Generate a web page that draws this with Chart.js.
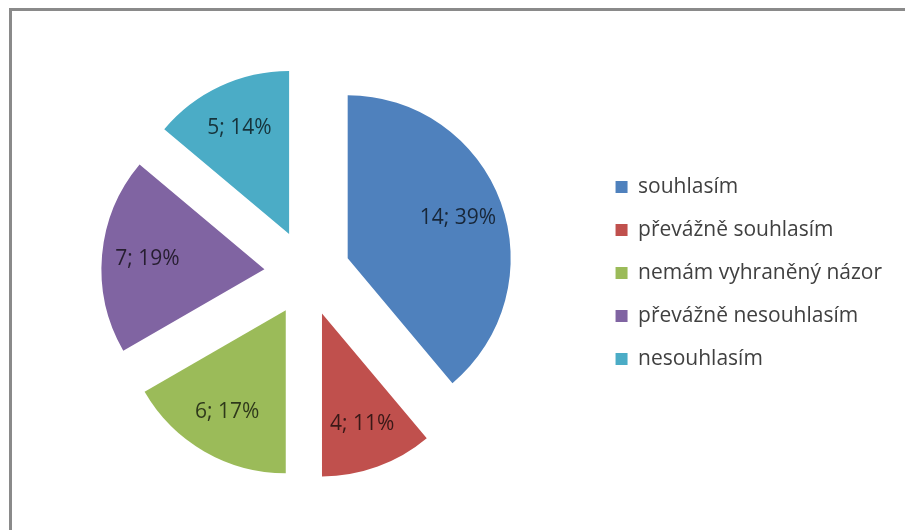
<!DOCTYPE html>
<html>
<head>
<meta charset="utf-8">
<script src="https://cdn.jsdelivr.net/npm/chart.js@4/dist/chart.umd.min.js"></script>
<style>
  html, body { margin: 0; padding: 0; background: #fff; }
  canvas { display: block; }
</style>
</head>
<body>
<canvas id="chart" width="905" height="530"></canvas>
<script>
const categories = [
  "souhlasím",
  "převážně souhlasím",
  "nemám vyhraněný názor",
  "převážně nesouhlasím",
  "nesouhlasím",
];
const counts = [14, 4, 6, 7, 5];
const percents = [39, 11, 17, 19, 14];
const colors = ["#4f81bd", "#c0504d", "#9bbb59", "#8064a2", "#4bacc6"];

// how far every slice is pulled out from the centre, px
const explode = 43;

// grey frame along the top and left edge
const framePlugin = {
  id: "frame",
  beforeDraw(chart) {
    const ctx = chart.ctx;
    ctx.save();
    ctx.strokeStyle = "#8a8a8a";
    ctx.lineWidth = 3;
    ctx.beginPath();
    ctx.moveTo(10.5, chart.height);
    ctx.lineTo(10.5, 9.5);
    ctx.lineTo(chart.width, 9.5);
    ctx.stroke();
    ctx.restore();
  },
};

// draw each arc shifted along its bisector (exploded pie)
const explodePlugin = {
  id: "explode",
  beforeDatasetDraw(chart, args) {
    const ctx = chart.ctx;
    args.meta.data.forEach((arc) => {
      const mid = (arc.startAngle + arc.endAngle) / 2;
      ctx.save();
      ctx.translate(Math.cos(mid) * explode, Math.sin(mid) * explode);
      arc.draw(ctx);
      ctx.restore();
    });
    return false;
  },
};

// "count; percent" inside every slice
const sliceLabels = {
  id: "sliceLabels",
  afterDatasetsDraw(chart) {
    const ctx = chart.ctx;
    const meta = chart.getDatasetMeta(0);
    ctx.save();
    ctx.font = "21px 'Open Sans'";
    ctx.fillStyle = "rgba(0,0,0,0.7)";
    ctx.textAlign = "center";
    ctx.textBaseline = "middle";
    meta.data.forEach((arc, i) => {
      const mid = (arc.startAngle + arc.endAngle) / 2;
      const dist = explode + arc.outerRadius * 0.72;
      ctx.fillText(
        counts[i] + "; " + percents[i] + "%",
        arc.x + Math.cos(mid) * dist,
        arc.y + Math.sin(mid) * dist
      );
    });
    ctx.restore();
  },
};

new Chart(document.getElementById("chart"), {
  type: "pie",
  data: {
    labels: categories,
    datasets: [{
      data: counts,
      backgroundColor: colors,
      borderWidth: 0,
      radius: 163,
    }],
  },
  options: {
    responsive: false,
    animation: false,
    layout: { padding: { left: 21, top: 26, bottom: 10, right: 13 } },
    plugins: {
      tooltip: { enabled: false },
      legend: {
        position: "right",
        labels: {
          boxWidth: 12,
          boxHeight: 12,
          padding: 22,
          color: "#404040",
          font: { family: "'Open Sans'", size: 21 },
        },
      },
    },
  },
  plugins: [framePlugin, explodePlugin, sliceLabels],
});
</script>
</body>
</html>
